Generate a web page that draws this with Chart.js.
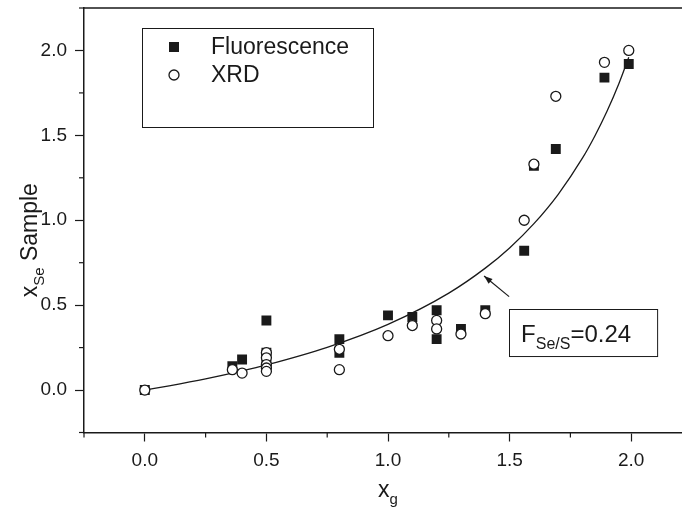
<!DOCTYPE html>
<html>
<head>
<meta charset="utf-8">
<script src="https://cdn.jsdelivr.net/npm/chart.js@4"></script>
<style>
  html, body { margin: 0; padding: 0; background: #fff; overflow: hidden; }
  #wrap { width: 700px; height: 510px; }
</style>
</head>
<body>
<div id="wrap"><canvas id="chart" width="700" height="510"></canvas></div>
<script>
// Fluorescence (filled squares)
const fluorX = [0, 0.36, 0.40, 0.50, 0.50, 0.50, 0.80, 0.80, 1.00, 1.10, 1.20, 1.20, 1.30, 1.40, 1.56, 1.60, 1.69, 1.89, 1.99];
const fluorY = [0, 0.14, 0.18, 0.41, 0.22, 0.15, 0.30, 0.22, 0.44, 0.43, 0.47, 0.30, 0.36, 0.47, 0.82, 1.32, 1.42, 1.84, 1.92];

// XRD (open circles)
const xrdX = [0, 0.36, 0.40, 0.50, 0.50, 0.50, 0.50, 0.50, 0.80, 0.80, 1.00, 1.10, 1.20, 1.20, 1.30, 1.40, 1.56, 1.60, 1.69, 1.89, 1.99];
const xrdY = [0, 0.12, 0.10, 0.22, 0.19, 0.15, 0.13, 0.11, 0.24, 0.12, 0.32, 0.38, 0.41, 0.36, 0.33, 0.45, 1.00, 1.33, 1.73, 1.93, 2.00];

// fit curve F(Se/S) = 0.24
const fitX = [0, 0.10, 0.25, 0.40, 0.50, 0.75, 1.00, 1.25, 1.40, 1.50, 1.60, 1.70, 1.80, 1.85, 1.90, 1.95, 1.99];
const fitY = [0, 0.025, 0.066, 0.113, 0.148, 0.252, 0.387, 0.571, 0.718, 0.837, 0.980, 1.153, 1.367, 1.495, 1.640, 1.807, 1.96];

const xTicks = [0, 0.5, 1.0, 1.5, 2.0];
const yTicks = [0, 0.5, 1.0, 1.5, 2.0];

const FONT = '"Liberation Sans", Arial, sans-serif';
const INK = '#1a1a1a';

function pts(xs, ys) {
    return xs.map((x, i) => ({ x: x, y: ys[i] }));
}

function isMajor(v, list) {
    return list.some(t => Math.abs(t - v) < 1e-6);
}

// titles, legend, minor ticks, frame and the F label
const decorations = {
    id: 'decorations',
    afterDraw(chart) {
        const ctx = chart.ctx;
        const a = chart.chartArea;
        const xs = chart.scales.x;
        const ys = chart.scales.y;
        ctx.save();
        ctx.strokeStyle = INK;
        ctx.fillStyle = INK;

        // frame (top line; right side runs off the page)
        ctx.lineWidth = 1.5;
        ctx.beginPath();
        ctx.moveTo(a.left, a.top);
        ctx.lineTo(a.right, a.top);
        ctx.lineTo(a.right, a.bottom);
        ctx.stroke();

        // minor ticks
        ctx.lineWidth = 1.2;
        xs.ticks.forEach(t => {
            if (isMajor(t.value, xTicks)) return;
            const px = xs.getPixelForValue(t.value);
            ctx.beginPath();
            ctx.moveTo(px, a.bottom);
            ctx.lineTo(px, a.bottom + 5);
            ctx.stroke();
        });
        ys.ticks.forEach(t => {
            if (isMajor(t.value, yTicks)) return;
            const py = ys.getPixelForValue(t.value);
            ctx.beginPath();
            ctx.moveTo(a.left, py);
            ctx.lineTo(a.left - 5, py);
            ctx.stroke();
        });

        // x axis title: x_g
        const cx = (a.left + a.right) / 2;
        ctx.textBaseline = 'alphabetic';
        ctx.textAlign = 'left';
        ctx.font = '23px ' + FONT;
        const wx = ctx.measureText('x').width;
        ctx.font = '15px ' + FONT;
        const wg = ctx.measureText('g').width;
        let sx = cx - (wx + wg) / 2;
        ctx.font = '23px ' + FONT;
        ctx.fillText('x', sx, 497);
        ctx.font = '15px ' + FONT;
        ctx.fillText('g', sx + wx, 504);

        // y axis title: x_Se Sample (rotated)
        ctx.save();
        ctx.translate(37, (a.top + a.bottom) / 2 + 20);
        ctx.rotate(-Math.PI / 2);
        ctx.font = '23px ' + FONT;
        const w1 = ctx.measureText('x').width;
        const w3 = ctx.measureText(' Sample').width;
        ctx.font = '15px ' + FONT;
        const w2 = ctx.measureText('Se').width;
        let ty = -(w1 + w2 + w3) / 2;
        ctx.font = '23px ' + FONT;
        ctx.fillText('x', ty, 0);
        ctx.font = '15px ' + FONT;
        ctx.fillText('Se', ty + w1, 7);
        ctx.font = '23px ' + FONT;
        ctx.fillText(' Sample', ty + w1 + w2, 0);
        ctx.restore();

        // legend box
        ctx.lineWidth = 1;
        ctx.strokeRect(142.5, 28.5, 231, 99);
        ctx.fillRect(169, 42, 10, 10);
        ctx.beginPath();
        ctx.arc(174, 75, 5, 0, Math.PI * 2);
        ctx.fillStyle = '#fff';
        ctx.fill();
        ctx.lineWidth = 1.3;
        ctx.stroke();
        ctx.fillStyle = INK;
        ctx.font = '23px ' + FONT;
        ctx.textBaseline = 'middle';
        ctx.fillText('Fluorescence', 211, 48);
        ctx.fillText('XRD', 211, 76);

        // arrow pointing at the curve
        const hx = xs.getPixelForValue(1.395), hy = ys.getPixelForValue(0.672);
        const tx = xs.getPixelForValue(1.498), tyy = ys.getPixelForValue(0.55);
        ctx.lineWidth = 1.2;
        ctx.beginPath();
        ctx.moveTo(tx, tyy);
        ctx.lineTo(hx, hy);
        ctx.stroke();
        const ang = Math.atan2(hy - tyy, hx - tx);
        ctx.beginPath();
        ctx.moveTo(hx, hy);
        ctx.lineTo(hx - 9 * Math.cos(ang - 0.35), hy - 9 * Math.sin(ang - 0.35));
        ctx.lineTo(hx - 9 * Math.cos(ang + 0.35), hy - 9 * Math.sin(ang + 0.35));
        ctx.closePath();
        ctx.fill();

        // F label box
        const bx0 = xs.getPixelForValue(1.498), by0 = ys.getPixelForValue(0.477);
        const bx1 = xs.getPixelForValue(2.107), by1 = ys.getPixelForValue(0.2);
        ctx.lineWidth = 1;
        ctx.strokeRect(Math.round(bx0) + 0.5, Math.round(by0) + 0.5, bx1 - bx0, by1 - by0);
        ctx.textBaseline = 'alphabetic';
        ctx.font = '24px ' + FONT;
        let fx = bx0 + 12;
        const fy = by0 + 33;
        ctx.fillText('F', fx, fy);
        fx += ctx.measureText('F').width;
        ctx.font = '16px ' + FONT;
        ctx.fillText('Se/S', fx, fy + 7);
        fx += ctx.measureText('Se/S').width;
        ctx.font = '24px ' + FONT;
        ctx.fillText('=0.24', fx, fy);

        ctx.restore();
    }
};

const ctx = document.getElementById('chart').getContext('2d');

new Chart(ctx, {
    type: 'scatter',
    data: {
        datasets: [
            {
                label: 'XRD',
                data: pts(xrdX, xrdY),
                pointStyle: 'circle',
                pointRadius: 5,
                backgroundColor: '#fff',
                borderColor: INK,
                borderWidth: 1.3,
                order: 0
            },
            {
                label: 'Fluorescence',
                data: pts(fluorX, fluorY),
                pointStyle: 'rect',
                pointRadius: 7,
                backgroundColor: INK,
                borderColor: INK,
                borderWidth: 0,
                order: 1
            },
            {
                type: 'line',
                label: 'fit',
                data: pts(fitX, fitY),
                borderColor: INK,
                borderWidth: 1.3,
                pointRadius: 0,
                fill: false,
                cubicInterpolationMode: 'monotone',
                order: 2
            }
        ]
    },
    options: {
        responsive: false,
        animation: false,
        layout: { padding: { top: 8, right: 8, left: 0, bottom: 0 } },
        plugins: {
            legend: { display: false },
            tooltip: { enabled: false }
        },
        scales: {
            x: {
                type: 'linear',
                min: -0.25,
                max: 2.25,
                afterFit: s => { s.height = 77.5; s.paddingLeft = 0; s.paddingRight = 0; },
                border: { display: true, color: INK, width: 1.5 },
                grid: {
                    drawOnChartArea: false,
                    tickLength: 9,
                    tickWidth: 1.2,
                    tickColor: c => isMajor(c.tick.value, xTicks) ? INK : 'rgba(0,0,0,0)'
                },
                ticks: {
                    stepSize: 0.25,
                    autoSkip: false,
                    maxRotation: 0,
                    padding: 8,
                    color: INK,
                    font: { family: FONT, size: 19 },
                    callback: v => isMajor(v, xTicks) ? v.toFixed(1) : ''
                }
            },
            y: {
                type: 'linear',
                min: -0.25,
                max: 2.25,
                afterFit: s => { s.width = 84; s.paddingTop = 0; s.paddingBottom = 0; },
                border: { display: true, color: INK, width: 1.5 },
                grid: {
                    drawOnChartArea: false,
                    tickLength: 9,
                    tickWidth: 1.2,
                    tickColor: c => isMajor(c.tick.value, yTicks) ? INK : 'rgba(0,0,0,0)'
                },
                ticks: {
                    stepSize: 0.25,
                    autoSkip: false,
                    padding: 8,
                    color: INK,
                    font: { family: FONT, size: 19 },
                    callback: v => isMajor(v, yTicks) ? v.toFixed(1) : ''
                }
            }
        }
    },
    plugins: [decorations]
});
</script>
</body>
</html>
